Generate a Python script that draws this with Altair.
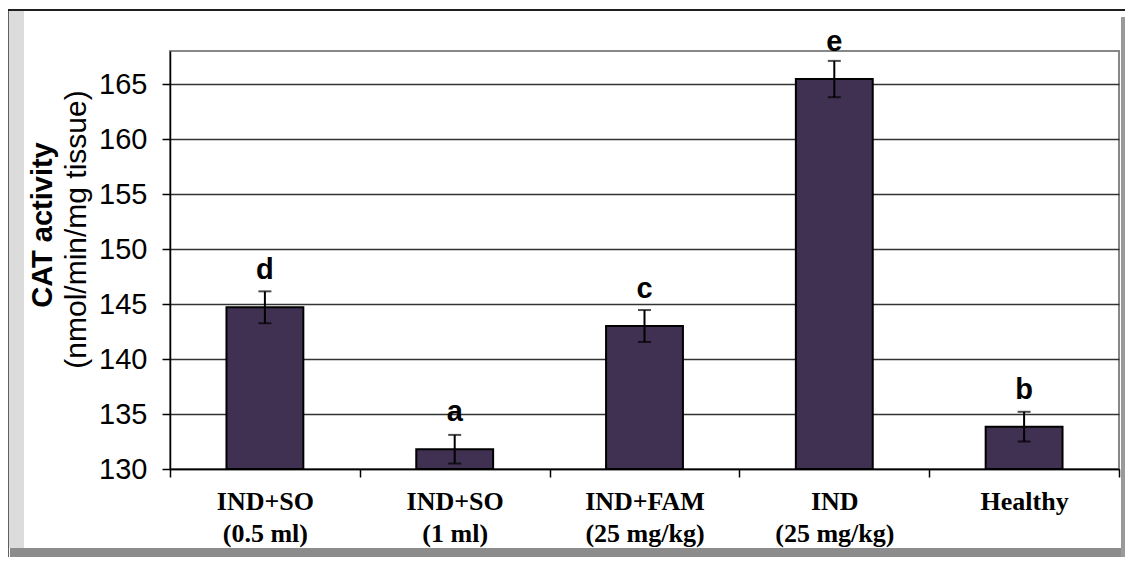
import altair as alt
import pandas as pd

# ---- data ----
categories = ["IND+SO|(0.5 ml)", "IND+SO|(1 ml)", "IND+FAM|(25 mg/kg)", "IND|(25 mg/kg)", "Healthy"]
means = [144.7, 131.8, 143.0, 165.45, 133.85]
errors = [1.45, 1.3, 1.45, 1.65, 1.35]
letters = ["d", "a", "c", "e", "b"]
y_ticks = [130, 135, 140, 145, 150, 155, 160, 165]

df = pd.DataFrame({
    "group": categories,
    "mean": means,
    "err": errors,
    "letter": letters,
})
df["lo"] = df["mean"] - df["err"]
df["hi"] = df["mean"] + df["err"]
df["base"] = 130

W, H = 949, 418
BAR = "#403152"

x_enc = alt.X(
    "group:N", sort=categories, title=None,
    scale=alt.Scale(paddingInner=0, paddingOuter=0),
    axis=alt.Axis(
        labelExpr="split(datum.label, '|')",
        labelFont="Liberation Serif", labelFontWeight="bold", labelFontSize=26,
        labelLineHeight=32, labelColor="black", labelAngle=0, labelPadding=11,
        tickBand="extent", tickColor="black", tickSize=8, tickWidth=1.5,
        domainColor="black", domainWidth=1.5, grid=False,
    ),
)
y_scale = alt.Scale(domain=[130, 168], nice=False, zero=False)
y_axis = alt.Axis(
    values=y_ticks, title="(nmol/min/mg tissue)",
    titleFont="Liberation Sans", titleFontSize=30, titleFontWeight="normal",
    titleColor="black", titleX=-94, titleY=178, titleAngle=270,
    titleAlign="center", titleBaseline="middle",
    labelFont="Liberation Sans", labelFontSize=29, labelColor="black", labelPadding=15,
    tickColor="black", tickSize=8, tickWidth=1.5,
    domainColor="black", domainWidth=1.5,
    grid=True, gridColor="#333333", gridWidth=1.3,
)

base = alt.Chart(df)

bars = base.mark_bar(
    color=BAR, stroke="black", strokeWidth=2, width=alt.RelativeBandSize(0.405)
).encode(
    x=x_enc,
    y=alt.Y("mean:Q", scale=y_scale, axis=y_axis),
    y2="base:Q",
)

err_rule = base.mark_rule(color="black", strokeWidth=2).encode(
    x=alt.X("group:N", sort=categories), y="lo:Q", y2="hi:Q"
)
cap_hi = base.mark_tick(color="black", size=13, thickness=2).encode(
    x=alt.X("group:N", sort=categories), y="hi:Q"
)
cap_lo = base.mark_tick(color="black", size=13, thickness=2).encode(
    x=alt.X("group:N", sort=categories), y="lo:Q"
)
labels = base.mark_text(
    font="Liberation Sans", fontWeight="bold", fontSize=29, color="black",
    baseline="alphabetic", dy=-28,
).encode(
    x=alt.X("group:N", sort=categories), y="mean:Q", text="letter:N"
)

one = pd.DataFrame({"k": [0]})

title_bold = alt.Chart(one).mark_text(
    text="CAT activity", font="Liberation Sans", fontWeight="bold", fontSize=29,
    color="black", angle=270, align="center", baseline="middle",
).encode(x=alt.value(-127), y=alt.value(174))

# decorative outer frame (page coords minus plot origin 170, 51)
def frame_rect(x1, x2, y1, y2, color):
    return alt.Chart(one).mark_rect(color=color).encode(
        x=alt.value(x1), x2=alt.value(x2), y=alt.value(y1), y2=alt.value(y2)
    )

frame = [
    frame_rect(-162, -146, -41, 497, "#dcdcdc"),   # left light bevel
    frame_rect(-163, -161, -41, 506, "#606060"),   # left edge line
    frame_rect(-162, 955, -42, -40, "#202020"),    # top line
    frame_rect(-160, 955, 497, 506, "#8c8c8c"),    # bottom band
    frame_rect(951, 955, -34, 506, "#9a9a9a"),     # right band
]

chart = alt.layer(
    *frame, bars, err_rule, cap_hi, cap_lo, labels, title_bold
).properties(
    width=W, height=H,
    autosize=alt.AutoSizeParams(type="none"),
    padding={"left": 162, "top": 43, "right": 6, "bottom": 88},
    background="white",
).configure_view(
    stroke="#888888", strokeWidth=2
)

chart.save("out.html", embed_options={"renderer": "svg", "actions": False})
